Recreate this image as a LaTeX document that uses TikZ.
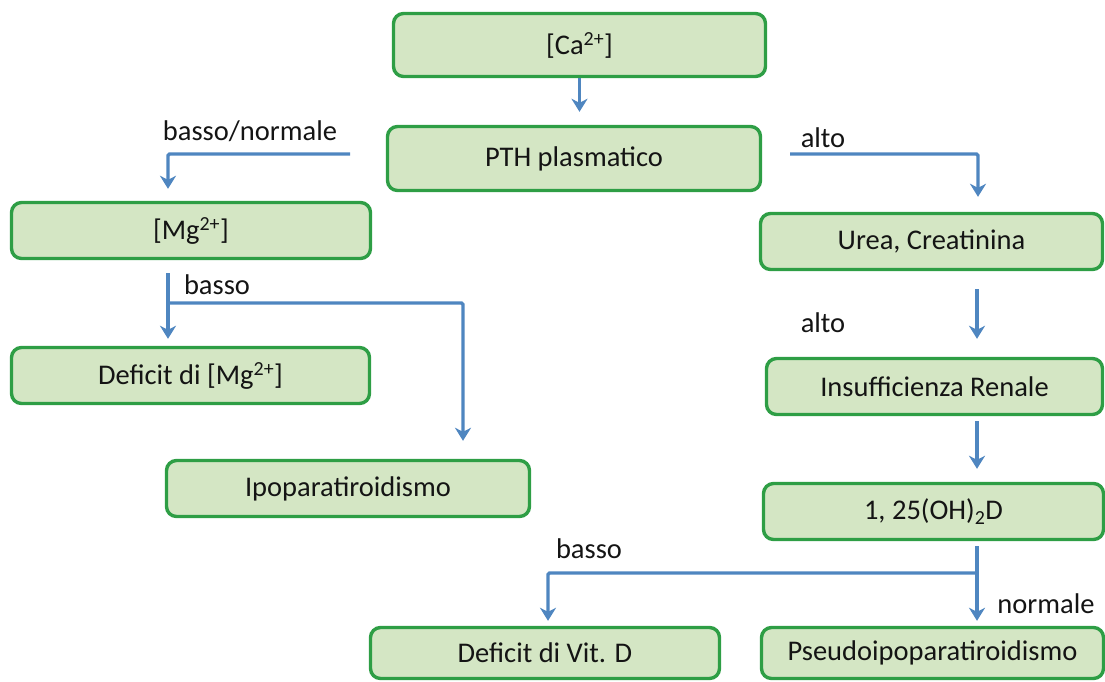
\documentclass[tikz,border=0pt]{standalone}
\usepackage{fontspec}
\setmainfont{Carlito}
\usetikzlibrary{arrows.meta,calc}
\definecolor{boxfill}{HTML}{D4E6C4}
\definecolor{boxline}{HTML}{2E9E45}
\definecolor{arrowblue}{HTML}{4F86C0}
\definecolor{txt}{HTML}{141414}

\begin{document}
\begin{tikzpicture}[x=1pt,y=-1pt,
  box/.style 2 args={draw=boxline, fill=boxfill, line width=3.4pt,
    rounded corners=10pt, minimum width=#1, minimum height=#2,
    inner sep=0pt, text=txt, font=\fontsize{28.5}{34}\selectfont},
  link/.style={draw=arrowblue, line width=3.4pt, rounded corners=1.5pt,
    -{Stealth[length=13pt,width=16pt,inset=4pt]}},
  wire/.style={draw=arrowblue, line width=3.4pt},
  lbl/.style={text=txt, inner sep=0pt, font=\fontsize{28.5}{34}\selectfont}]
\useasboundingbox (0,0) rectangle (1105,681);

% boxes
\node[box={372pt}{63pt}] (ca)     at (579.5,45)  {[Ca\textsuperscript{2+}]};
\node[box={373pt}{64pt}] (pth)    at (574,158.5) {PTH plasmatico};
\node[box={359pt}{56pt}] (mg)     at (191,230.5) {[Mg\textsuperscript{2+}]};
\node[box={358pt}{56pt}] (defmg)  at (190.5,375.5) {Deficit di [Mg\textsuperscript{2+}]};
\node[box={363pt}{56pt}] (ipo)    at (348,488.5) {Ipoparatiroidismo};
\node[box={342pt}{56pt}] (urea)   at (931.5,241.5) {Urea, Creatinina};
\node[box={336pt}{56pt}] (ins)    at (934.5,386.5) {Insufficienza Renale};
\node[box={340pt}{56pt}] (vitd)   at (933.5,511.5) {1, 25(OH)\textsubscript{2}D};
\node[box={349pt}{51pt}] (defd)   at (545,653)   {Deficit di Vit. D};
\node[box={342pt}{51pt}] (pseudo) at (932.5,653) {Pseudoipoparatiroidismo};

% branch points and connector columns
\coordinate (lowStart)  at (350,154);
\coordinate (highStart) at (790,154);
\coordinate (mgSplit)   at (168,303);
\coordinate (dSplit)    at (977,573);
\coordinate (ureaCol)   at (978,0);
\coordinate (ipoCol)    at (463,0);
\coordinate (defdCol)   at (548,0);

% connectors
\draw[link, shorten >=13pt] (ca.south) -- (ca.south |- pth.north);
\draw[link, shorten >=12pt] (lowStart) -| (mgSplit |- mg.north);
\draw[link, shorten >=15pt] (highStart) -| (ureaCol |- urea.north);
\draw[wire, shorten <=13pt] (mgSplit |- mg.south) -- (mgSplit);
\draw[link, shorten >=7pt] (mgSplit) -- (mgSplit |- defmg.north);
\draw[link, shorten >=18pt] (mgSplit) -| (ipoCol |- ipo.north);
\draw[link, shorten <=18pt, shorten >=18pt] (dSplit |- urea.south) -- (dSplit |- ins.north);
\draw[link, shorten <=5pt, shorten >=13pt] (dSplit |- ins.south) -- (dSplit |- vitd.north);
\draw[wire, shorten <=5pt] (dSplit |- vitd.south) -- (dSplit);
\draw[link, shorten >=5pt] (dSplit) -- (dSplit |- pseudo.north);
\draw[link, shorten >=5pt] (dSplit) -| (defdCol |- defd.north);

% labels
\node[lbl] (lBN)  at (250,131)  {basso/normale};
\node[lbl] (lB1)  at (217,285)  {basso};
\node[lbl] (lA1)  at (823,138)  {alto};
\node[lbl] (lA2)  at (823,323)  {alto};
\node[lbl] (lB2)  at (589,549)  {basso};
\node[lbl] (lN)   at (1046,604) {normale};
\end{tikzpicture}
\end{document}
